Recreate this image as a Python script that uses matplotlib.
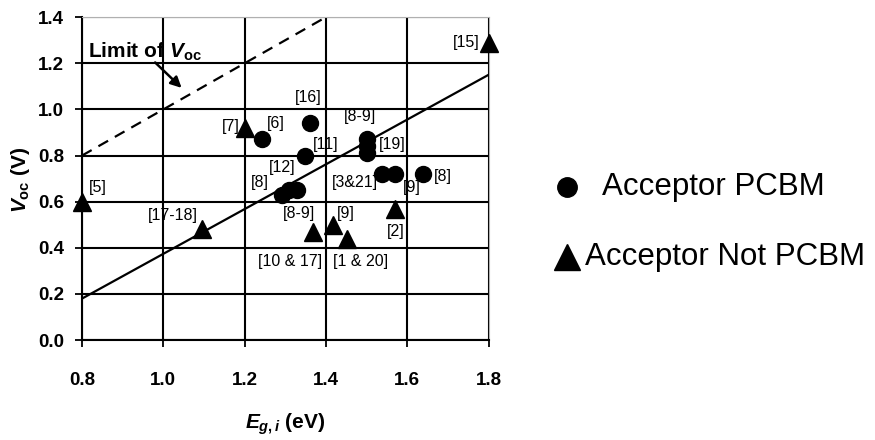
import matplotlib.pyplot as plt
from matplotlib.lines import Line2D

plt.rcParams['font.family'] = ['Liberation Sans', 'DejaVu Sans']
plt.rcParams['mathtext.fontset'] = 'custom'
plt.rcParams['mathtext.it'] = 'Liberation Sans:italic:bold'
plt.rcParams['mathtext.rm'] = 'Liberation Sans:bold'

# acceptor PCBM (circles)
pcbm_x = [1.243, 1.362, 1.349, 1.502, 1.502, 1.502, 1.539, 1.571, 1.640, 1.292, 1.308, 1.329]
pcbm_y = [0.87, 0.94, 0.80, 0.87, 0.84, 0.81, 0.72, 0.72, 0.72, 0.63, 0.65, 0.65]

# acceptor not PCBM (triangles)
other_x = [1.80, 1.20, 0.80, 1.095, 1.369, 1.418, 1.452, 1.571]
other_y = [1.29, 0.92, 0.60, 0.48, 0.47, 0.50, 0.44, 0.57]

# reference labels: text, x, y
refs = ['[15]', '[7]', '[6]', '[16]', '[11]', '[8-9]', '[19]', '[12]', '[8]', '[3&21]',
        '[9]', '[8]', '[5]', '[17-18]', '[8-9]', '[9]', '[10 & 17]', '[1 & 20]', '[2]']
ref_x = [1.745, 1.165, 1.278, 1.357, 1.400, 1.485, 1.563, 1.292, 1.238, 1.472,
         1.612, 1.688, 0.840, 1.024, 1.333, 1.450, 1.312, 1.485, 1.571]
ref_y = [1.29, 0.925, 0.94, 1.05, 0.85, 0.97, 0.85, 0.75, 0.685, 0.685,
         0.66, 0.71, 0.66, 0.54, 0.55, 0.55, 0.34, 0.34, 0.47]

# lines
limit_x = [0.8, 1.4]
limit_y = [0.8, 1.4]
fit_x = [0.8, 1.8]
fit_y = [0.18, 1.15]

fig = plt.figure(figsize=(8.75, 4.4), dpi=100)
ax = fig.add_axes([0.0937, 0.227, 0.4646, 0.734])

ax.plot(limit_x, limit_y, color='black', ls=(0, (5, 3.5)), lw=1.6, zorder=3)
ax.plot(fit_x, fit_y, color='black', lw=1.6, zorder=3)
ax.plot(pcbm_x, pcbm_y, 'o', color='black', ms=11.5, zorder=4, clip_on=False)
ax.plot(other_x, other_y, '^', color='black', ms=13, zorder=4, clip_on=False)

for t, x, y in zip(refs, ref_x, ref_y):
    ax.text(x, y, t, ha='center', va='center', fontsize=11.5, zorder=5)

ax.text(0.815, 1.25, r'Limit of $V_{\mathrm{oc}}$', fontsize=15, fontweight='bold',
        ha='left', va='center')
ax.annotate('', xy=(1.05, 1.085), xytext=(0.975, 1.212),
            arrowprops=dict(arrowstyle='-|>', color='black', lw=1.8, mutation_scale=16))

ax.set_xlim(0.8, 1.8)
ax.set_ylim(0.0, 1.4)
ax.set_xticks([0.8, 1.0, 1.2, 1.4, 1.6, 1.8])
ax.set_yticks([0.0, 0.2, 0.4, 0.6, 0.8, 1.0, 1.2, 1.4])
ax.set_xticklabels(['0.8', '1.0', '1.2', '1.4', '1.6', '1.8'], fontweight='bold', fontsize=13.5)
ax.set_yticklabels(['0.0', '0.2', '0.4', '0.6', '0.8', '1.0', '1.2', '1.4'], fontweight='bold', fontsize=13.5)
ax.tick_params(axis='y', direction='out', length=5, width=1.3, pad=8)
ax.tick_params(axis='x', direction='out', length=5, width=1.3, pad=18)
ax.grid(True, color='black', lw=1.5)
ax.set_axisbelow(True)
for s in ['top', 'right']:
    ax.spines[s].set_color('#b0b0b0')
ax.spines['left'].set_linewidth(1.5)
ax.spines['bottom'].set_linewidth(1.5)

ax.set_xlabel(r'$E_{g,i}$ (eV)', fontsize=15, fontweight='bold', labelpad=16)
ax.set_ylabel(r'$V_{\mathrm{oc}}$ (V)', fontsize=15, fontweight='bold')
ax.yaxis.set_label_coords(-0.122, 0.495)

# legend drawn as markers and text in figure coordinates
y1 = 1 - 187 / 440
y2 = 1 - 257 / 440
fig.add_artist(Line2D([567 / 875], [y1], marker='o', color='black', ms=14,
                      transform=fig.transFigure))
fig.add_artist(Line2D([567 / 875], [y2], marker='^', color='black', ms=19,
                      transform=fig.transFigure))
fig.text(602 / 875, y1, 'Acceptor PCBM', fontsize=22.5, ha='left', va='center')
fig.text(585 / 875, y2, 'Acceptor Not PCBM', fontsize=22.5, ha='left', va='center')

fig.savefig('out.png', dpi=100)
